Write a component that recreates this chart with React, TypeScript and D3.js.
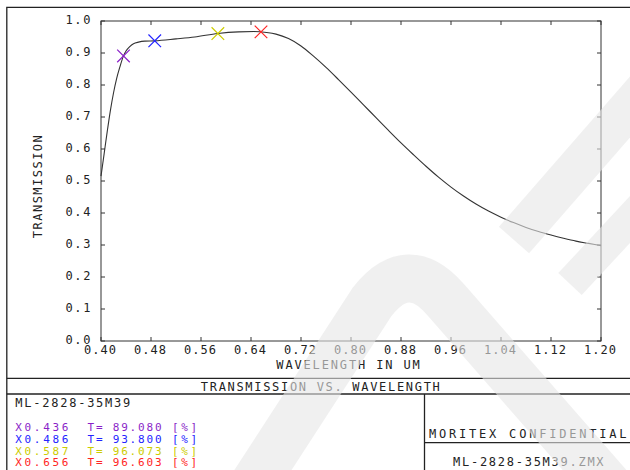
import React, { useEffect, useRef } from 'react';
import * as d3 from 'd3';

// transmission curve
const wavelengths = [
  0.4, 0.405, 0.41, 0.415, 0.42, 0.425, 0.43, 0.436, 0.44, 0.446, 0.452, 0.46, 0.47, 0.486, 0.52,
  0.55, 0.587, 0.62, 0.645, 0.665, 0.68, 0.7, 0.72, 0.74, 0.76, 0.78, 0.8, 0.82, 0.84, 0.86, 0.88,
  0.9, 0.92, 0.94, 0.96, 0.98, 1.0, 1.02, 1.04, 1.06, 1.08, 1.1, 1.12, 1.14, 1.16, 1.18, 1.2,
];
const transmission = [
  0.515, 0.585, 0.655, 0.72, 0.775, 0.82, 0.855, 0.891, 0.906, 0.92, 0.929, 0.934, 0.937, 0.938,
  0.944, 0.95, 0.961, 0.966, 0.967, 0.964, 0.959, 0.945, 0.922, 0.89, 0.855, 0.817, 0.778, 0.738,
  0.698, 0.658, 0.619, 0.582, 0.546, 0.512, 0.481, 0.453, 0.428, 0.406, 0.387, 0.37, 0.355, 0.342,
  0.331, 0.321, 0.312, 0.305, 0.298,
];

const markerWavelengths = [0.436, 0.486, 0.587, 0.656];
const markerValues = [0.8908, 0.938, 0.96073, 0.96603];
const markerColors = ['#8a1fc8', '#2424ff', '#cccc00', '#ff2424'];
const markerLabels = ['X0.436', 'X0.486', 'X0.587', 'X0.656'];
const markerTexts = ['T= 89.080', 'T= 93.800', 'T= 96.073', 'T= 96.603'];

const xTicks = [0.4, 0.48, 0.56, 0.64, 0.72, 0.8, 0.88, 0.96, 1.04, 1.12, 1.2];
const yTicks = [0, 0.1, 0.2, 0.3, 0.4, 0.5, 0.6, 0.7, 0.8, 0.9, 1.0];

const FONT = '"DejaVu Sans Mono", "Liberation Mono", monospace';
const INK = '#222';

const App: React.FC = () => {
  const svgRef = useRef<SVGSVGElement>(null);

  useEffect(() => {
    if (!svgRef.current) return;
    const width = 630;
    const height = 470;
    const plot = { left: 101, right: 601, top: 21, bottom: 341 };

    const svg = d3.select(svgRef.current).attr('width', width).attr('height', height);
    svg.selectAll('*').remove();

    svg.append('rect').attr('width', width).attr('height', height).attr('fill', '#fff');

    const x = d3.scaleLinear().domain([0.4, 1.2]).range([plot.left, plot.right]);
    const y = d3.scaleLinear().domain([0, 1]).range([plot.bottom, plot.top]);

    // text placed by its left edge and width so spacing matches the monospace plot font
    const label = (
      parent: d3.Selection<any, unknown, null, undefined>,
      text: string,
      px: number,
      py: number,
      w: number,
      anchor: 'start' | 'middle' | 'end',
      color = INK,
      size = 12,
    ) => {
      const left = anchor === 'start' ? px : anchor === 'middle' ? px - w / 2 : px - w;
      return parent
        .append('text')
        .attr('x', left)
        .attr('y', py + size * 0.36)
        .attr('textLength', w)
        .attr('lengthAdjust', 'spacing')
        .attr('font-family', FONT)
        .attr('font-size', size)
        .attr('fill', color)
        .text(text);
    };

    // outer frame and title block
    const frame = svg.append('g').attr('stroke', INK).attr('stroke-width', 1.3).attr('fill', 'none');
    frame.append('path').attr('d', `M6.8,${height + 2} V7.3 H${width + 2}`);
    frame.append('line').attr('x1', 6.8).attr('x2', width + 2).attr('y1', 378.3).attr('y2', 378.3);
    frame.append('line').attr('x1', 6.8).attr('x2', width + 2).attr('y1', 394).attr('y2', 394);
    frame.append('line').attr('x1', 424.5).attr('x2', 424.5).attr('y1', 394).attr('y2', height + 2);
    frame.append('line').attr('x1', 424.5).attr('x2', width + 2).attr('y1', 442.7).attr('y2', 442.7);

    const g = svg.append('g');

    // plot box
    g.append('rect')
      .attr('x', plot.left)
      .attr('y', plot.top)
      .attr('width', plot.right - plot.left)
      .attr('height', plot.bottom - plot.top)
      .attr('fill', 'none')
      .attr('stroke', '#333')
      .attr('stroke-width', 1);

    // inward ticks on all four sides
    const tickLen = 4;
    const ticks = g.append('g').attr('stroke', '#333').attr('stroke-width', 1);
    xTicks.forEach((t) => {
      ticks.append('line').attr('x1', x(t)).attr('x2', x(t)).attr('y1', plot.bottom).attr('y2', plot.bottom - tickLen);
      ticks.append('line').attr('x1', x(t)).attr('x2', x(t)).attr('y1', plot.top).attr('y2', plot.top + tickLen);
    });
    yTicks.forEach((t) => {
      ticks.append('line').attr('x1', plot.left).attr('x2', plot.left + tickLen).attr('y1', y(t)).attr('y2', y(t));
      ticks.append('line').attr('x1', plot.right).attr('x2', plot.right - tickLen).attr('y1', y(t)).attr('y2', y(t));
    });

    const fx = d3.format('.2f');
    const fy = d3.format('.1f');
    xTicks.forEach((t) => label(g, fx(t), x(t) - 1, 349.5, 32, 'middle'));
    yTicks.forEach((t) => label(g, fy(t), 90.4, y(t) - 1.5, 25, 'end'));

    // axis titles
    label(svg, 'WAVELENGTH IN UM', 276.3, 365, 143.4, 'start');
    const yTitle = svg.append('g').attr('transform', 'translate(38,186.7) rotate(-90)');
    label(yTitle, 'TRANSMISSION', 0, 0, 103, 'middle');

    // curve
    const pts: [number, number][] = wavelengths.map((w, i) => [w, transmission[i]]);
    const line = d3
      .line<[number, number]>()
      .x((d) => x(d[0]))
      .y((d) => y(d[1]))
      .curve(d3.curveMonotoneX);
    g.append('path')
      .attr('d', line(pts))
      .attr('fill', 'none')
      .attr('stroke', '#333')
      .attr('stroke-width', 1.1);

    // wavelength markers
    const s = 6.3;
    markerWavelengths.forEach((w, i) => {
      const cx = x(w);
      const cy = y(markerValues[i]);
      g.append('path')
        .attr('d', `M${cx - s},${cy - s}L${cx + s},${cy + s}M${cx - s},${cy + s}L${cx + s},${cy - s}`)
        .attr('stroke', markerColors[i])
        .attr('stroke-width', 1.2)
        .attr('fill', 'none');
    });

    // title block text
    label(svg, 'TRANSMISSION VS. WAVELENGTH', 200.8, 386.5, 239, 'start');
    label(svg, 'ML-2828-35M39', 15.3, 403, 115, 'start');
    const rowY = [427.3, 439, 450.7, 462.3];
    markerLabels.forEach((m, i) => {
      label(svg, m, 15.3, rowY[i], 53, 'start', markerColors[i], 11);
      label(svg, markerTexts[i], 87.5, rowY[i], 74, 'start', markerColors[i], 11);
      label(svg, '[%]', 172, rowY[i], 25, 'start', markerColors[i], 11);
    });
    label(svg, 'MORITEX CONFIDENTIAL', 429, 434, 197.5, 'start');
    label(svg, 'ML-2828-35M39.ZMX', 453, 461.5, 150.6, 'start');

    // faint watermark laid over everything
    const wm = svg
      .append('g')
      .attr('fill', 'none')
      .attr('stroke', 'rgb(230,230,230)')
      .attr('stroke-opacity', 0.6)
      .attr('stroke-linejoin', 'round');
    wm.append('path').attr('d', 'M250,490 L372,302 Q408,256 446,300 L612,490').attr('stroke-width', 48);
    wm.append('path').attr('d', 'M514,240 L650,84').attr('stroke-width', 40);
    wm.append('path').attr('d', 'M570,284 L650,198').attr('stroke-width', 32);
  }, []);

  return <svg ref={svgRef} style={{ position: 'absolute', left: 0, top: 0 }}></svg>;
};

export default App;
